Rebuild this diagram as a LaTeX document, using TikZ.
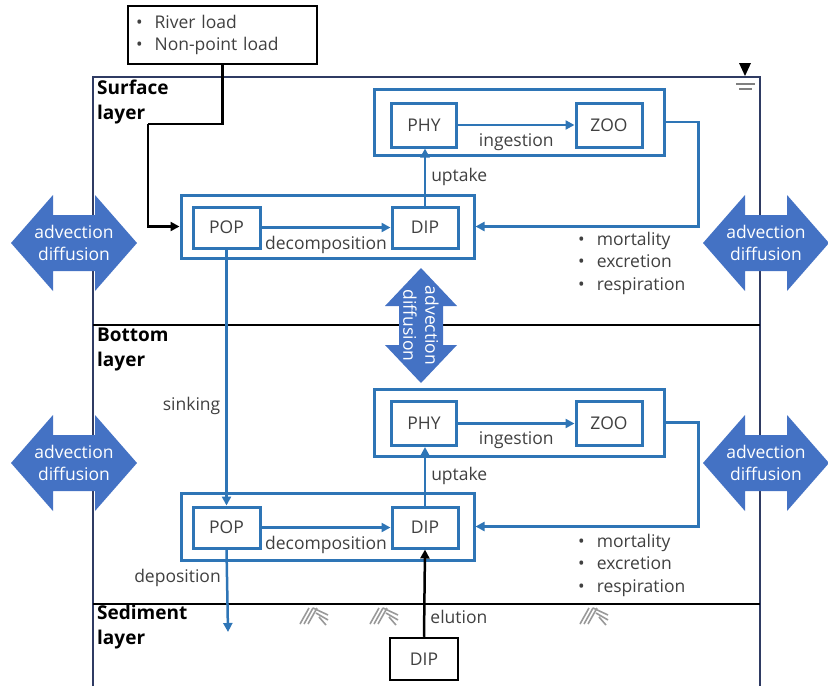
\documentclass[tikz,border=0pt]{standalone}
\usepackage{fontspec}
\setmainfont{Open Sans}
\usetikzlibrary{arrows.meta}
\definecolor{boxblue}{RGB}{46,117,182}
\definecolor{advblue}{RGB}{68,114,196}
\definecolor{framenavy}{RGB}{47,59,99}
\definecolor{txtgray}{RGB}{64,64,64}
\tikzset{
  sedmark/.pic={
    \draw[gray!80, line width=1.6pt]
      (0,19) -- (9,3) (4,19) -- (13,3) (8,19) -- (17,3)
      (13,3) -- (28,10) (16,8) -- (28,15) (19,12) -- (26,20);
  }
}
\begin{document}
\begin{tikzpicture}[x=1pt,y=-1pt,
  font=\fontsize{17.5}{22}\selectfont,
  grpbox/.style={draw=boxblue, line width=3pt, inner sep=0pt},
  innerbox/.style={draw=boxblue, line width=3pt, fill=white, text=txtgray, inner sep=0pt},
  blackbox/.style={draw=black, line width=2.5pt, text=txtgray, inner sep=0pt},
  flow/.style={draw=boxblue, line width=2.5pt, -{Triangle[length=9pt,width=9pt]}},
  blackflow/.style={draw=black, line width=2.5pt, -{Triangle[length=9pt,width=9pt]}},
  flowlabel/.style={text=txtgray, inner sep=3pt},
  layerlabel/.style={font=\fontsize{19}{25}\selectfont\bfseries, align=left, anchor=north west, inner sep=0pt},
  advtext/.style={text=white, align=center, inner sep=0pt, font=\fontsize{17.5}{22}\selectfont},
  losslist/.style={text=txtgray, align=left, anchor=west, inner sep=0pt, font=\fontsize{17.5}{22.5}\selectfont}
]
\useasboundingbox (0,0) rectangle (828,686);

% water body frame and layer boundaries
\draw[framenavy, line width=2.5pt] (93,686) -- (93,77) -- (760,77) -- (760,686);
\draw[black, line width=2.5pt] (93,325) -- (760,325);
\draw[black, line width=2.5pt] (93,604) -- (760,604);

% water surface mark
\fill[black] (739,63) -- (751,63) -- (745,76) -- cycle;
\draw[gray, line width=1.5pt] (736,84) -- (755,84) (739,89) -- (752,89);

% sediment marks
\foreach \sx in {300,370,580}
  \pic at (\sx,605) {sedmark};

% layer names
\node[layerlabel] (lblSurf) at (97,80) {Surface\\layer};
\node[layerlabel] (lblBot) at (97,328) {Bottom\\layer};
\node[layerlabel] (lblSed) at (97,605) {Sediment\\layer};

% external load
\node[blackbox, minimum width=189, minimum height=58, text width=173, align=left, inner xsep=8pt] (load) at (222.5,35)
  {\textbullet\hspace{12pt}River load\\\textbullet\hspace{12pt}Non-point load};

% surface layer
\node[grpbox, minimum width=290, minimum height=66] (grpS1) at (519,122) {};
\node[innerbox, minimum width=65, minimum height=44] (phyS) at (424,125) {PHY};
\node[innerbox, minimum width=66, minimum height=44] (zooS) at (609,125) {ZOO};
\node[grpbox, minimum width=293, minimum height=63] (grpS2) at (327.5,226.5) {};
\node[innerbox, minimum width=67, minimum height=41] (popS) at (226.5,227.5) {POP};
\node[innerbox, minimum width=66, minimum height=41] (dipS) at (425,227.5) {DIP};

% bottom layer
\node[grpbox, minimum width=290, minimum height=67] (grpB1) at (519,422.5) {};
\node[innerbox, minimum width=65, minimum height=44] (phyB) at (424,423.5) {PHY};
\node[innerbox, minimum width=66, minimum height=44] (zooB) at (609,423.5) {ZOO};
\node[grpbox, minimum width=293, minimum height=67] (grpB2) at (327.5,526.5) {};
\node[innerbox, minimum width=67, minimum height=41] (popB) at (226.5,527.5) {POP};
\node[innerbox, minimum width=66, minimum height=41] (dipB) at (425,527.5) {DIP};

% sediment
\node[blackbox, minimum width=68, minimum height=42] (dipSed) at (424,659) {DIP};

\coordinate (loadBend) at (148,124);
\coordinate (depEnd) at (228,632);

% fluxes
\draw[black, line width=2.5pt] (load.south) |- (loadBend);
\draw[blackflow] (loadBend) |- (grpS2.west);

\draw[flow] (popS.east) -- (dipS.west) node[flowlabel, midway, below=4pt] {decomposition};
\draw[flow] (phyS.east) -- (zooS.west) node[flowlabel, midway, below=4pt] {ingestion};
\draw[flow] (dipS.north) -- (dipS.north |- phyS.south) node[flowlabel, midway, right=2pt] {uptake};
\draw[flow] (grpS1.east) -- ++(33,0) |- (grpS2.east);
\node[losslist] (lossS) at (578,263) {\textbullet\hspace{12pt}mortality\\\textbullet\hspace{12pt}excretion\\\textbullet\hspace{12pt}respiration};

\draw[flow] (popS.south) -- (popB.north) node[flowlabel, pos=0.61, left=2pt] {sinking};

\draw[flow] (popB.east) -- (dipB.west) node[flowlabel, midway, below=4pt] {decomposition};
\draw[flow] (phyB.east) -- (zooB.west) node[flowlabel, midway, below=4pt] {ingestion};
\draw[flow] (dipB.north) -- (dipB.north |- phyB.south) node[flowlabel, midway, right=2pt] {uptake};
\draw[flow] (grpB1.east) -- ++(33,0) |- (grpB2.east);
\node[losslist] (lossB) at (578,565) {\textbullet\hspace{12pt}mortality\\\textbullet\hspace{12pt}excretion\\\textbullet\hspace{12pt}respiration};

\draw[flow] (popB.south) -- (depEnd) node[flowlabel, pos=0.35, left=2pt] {deposition};
\draw[blackflow] (dipSed.north) -- (dipB.south) node[flowlabel, pos=0.23, right=2pt] {elution};

% advection / diffusion
\foreach \cx/\cy/\nm in {74/243/advSL, 766/243/advSR, 74/463/advBL, 766/463/advBR}{
  \fill[advblue] (\cx-63,\cy) -- (\cx-21,\cy-48) -- (\cx-21,\cy-28) -- (\cx+21,\cy-28)
    -- (\cx+21,\cy-48) -- (\cx+63,\cy) -- (\cx+21,\cy+48) -- (\cx+21,\cy+28)
    -- (\cx-21,\cy+28) -- (\cx-21,\cy+48) -- cycle;
  \node[advtext] (\nm) at (\cx,\cy) {advection\\diffusion};
}
\fill[advblue] (421,268) -- (457,306) -- (443,306) -- (443,345) -- (457,345) -- (421,383)
  -- (385,345) -- (399,345) -- (399,306) -- (385,306) -- cycle;
\node[advtext, rotate=-90] (advMid) at (421,325.5) {advection\\diffusion};

\end{tikzpicture}
\end{document}
